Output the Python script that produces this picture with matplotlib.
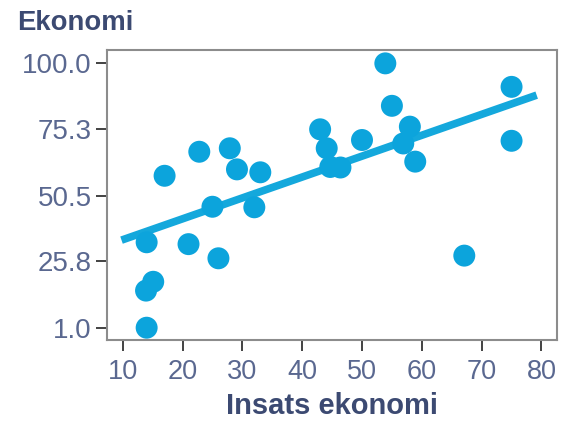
import matplotlib
matplotlib.use("Agg")
import matplotlib.pyplot as plt

insats = [53.9, 75.0, 55.0, 58.0, 43.0, 22.8, 27.9, 44.1, 50.0, 75.0, 56.9, 58.9,
          29.1, 33.0, 44.7, 46.4, 17.0, 25.0, 32.0, 14.0, 21.0, 26.0, 67.1, 15.1, 13.9, 14.0]
ekonomi = [100.0, 91.2, 84.1, 76.3, 75.3, 66.9, 68.2, 68.2, 71.3, 71.0, 70.0, 63.2,
           60.3, 59.2, 61.2, 61.0, 57.9, 46.3, 46.1, 33.0, 32.3, 27.0, 28.0, 18.2, 14.9, 1.0]
fit_x = [9.8, 79.2]
fit_y = [33.8, 88.1]
xticks = [10, 20, 30, 40, 50, 60, 70, 80]
yticks = [1.0, 25.8, 50.5, 75.3, 100.0]

fam = "Liberation Sans"
fig = plt.figure(figsize=(5.61, 4.21), dpi=100)
ax = fig.add_axes([0.1907, 0.1924, 0.8022, 0.6888])
dot = "#0ca4dc"
ax.plot(fit_x, fit_y, color="#14a8dc", lw=5.5, solid_capstyle="butt", zorder=2)
ax.scatter(insats, ekonomi, s=250, color=dot, edgecolors="none", zorder=3)
ax.set_xlim(7.37, 82.6)
ax.set_ylim(-3.6, 105.0)
ax.set_xticks(xticks)
ax.set_yticks(yticks)
ax.set_xticklabels([str(v) for v in xticks], family=fam, fontsize=19.5)
ax.set_yticklabels([f"{v:.1f}" for v in yticks], family=fam, fontsize=20)
lab = "#5a6890"
ax.tick_params(colors="#222222", labelcolor=lab, length=8, width=1.2, direction="out")
ax.tick_params(axis="y", pad=3)
ax.tick_params(axis="x", pad=6)
for s in ax.spines.values():
    s.set_color("#8c8c8c")
    s.set_linewidth(1.5)
ax.set_xlabel("Insats ekonomi", fontsize=21, fontweight="bold", color="#3c4a72",
              family=fam, va="center")
ax.xaxis.set_label_coords(0.5, -0.226)
fig.text(17 / 561, 1 - 23 / 421, "Ekonomi", fontsize=19.8, fontweight="bold", color="#3c4a72",
         va="center", ha="left", family=fam)
fig.savefig("out.png", dpi=100)
